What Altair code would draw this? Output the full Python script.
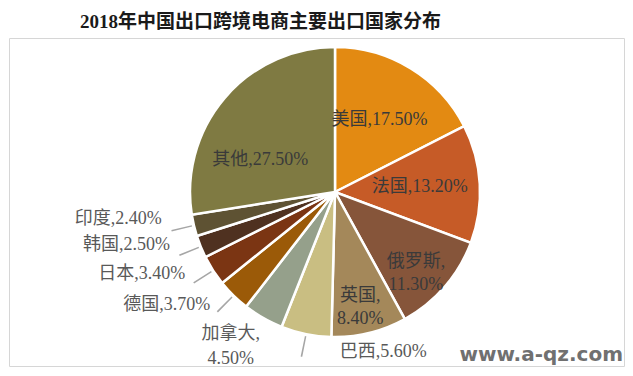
import altair as alt
import pandas as pd

# ---- data ----
countries = ["美国", "法国", "俄罗斯", "英国", "巴西", "加拿大", "德国", "日本", "韩国", "印度", "其他"]
shares = [17.5, 13.2, 11.3, 8.4, 5.6, 4.5, 3.7, 3.4, 2.5, 2.4, 27.5]
colors = ["#E38A12", "#C65B27", "#86553A", "#A4885A", "#C9BE82", "#95A08B",
          "#9B5A08", "#7B3513", "#4F3120", "#5E5233", "#7F7A42"]
title_text = "2018年中国出口跨境电商主要出口国家分布"
watermark = ["www.a-qz.com"]

inner_names = ["美国", "法国"]
middle_names = ["俄罗斯", "英国"]
other_names = ["其他"]
two_line_names = ["俄罗斯", "英国", "加拿大"]
left_names = ["德国", "日本", "韩国", "印度"]
right_names = ["巴西"]
below_names = ["加拿大"]


def make_label(name, v):
    sep = ",\n" if name in two_line_names else ","
    return f"{name}{sep}{v:.2f}%"


df = pd.DataFrame({
    "country": countries,
    "share": shares,
    "order": list(range(len(countries))),
})
df["label"] = [make_label(c, v) for c, v in zip(countries, shares)]

CX, CY = 326, 154  # pie centre inside the plot area
R = 145
SERIF = "Liberation Serif, Noto Sans CJK SC"

theta_scale = alt.Scale(domain=[0, 100])

base = alt.Chart().encode(
    x=alt.value(CX),
    y=alt.value(CY),
)


def only(names):
    return alt.FieldOneOfPredicate(field="country", oneOf=names)


pie = base.mark_arc(radius=R, stroke="white", strokeWidth=2.5).encode(
    theta=alt.Theta("start:Q", scale=theta_scale),
    theta2="cum:Q",
    color=alt.Color("country:N", scale=alt.Scale(domain=countries, range=colors), legend=None),
)


def label_layer(names, radius, color, align="center", dx=0, dy=0, lh=23):
    return base.mark_text(
        radius=radius, font=SERIF, fontSize=18, color=color, lineBreak="\n",
        align=align, baseline="middle", lineHeight=lh, dx=dx, dy=dy,
    ).encode(
        theta=alt.Theta("mid:Q", scale=theta_scale),
        text="label:N",
    ).transform_filter(only(names))


INNER_C = "#3A3A3A"
OUTER_C = "#595959"

inner = label_layer(inner_names, 85, INNER_C)
middle = label_layer(middle_names, 107, INNER_C)
other = label_layer(other_names, 85, INNER_C, dx=-10, dy=23)

leaders = base.mark_arc(radius=168, radius2=147, color="#A6A6A6").encode(
    theta=alt.Theta("lo:Q", scale=theta_scale),
    theta2="hi:Q",
).transform_filter(only(left_names + right_names))

left_labels = label_layer(left_names, 178, OUTER_C, align="right", dy=-14)
right_labels = label_layer(right_names, 166, OUTER_C, align="left", dx=38, dy=-3)
below_labels = label_layer(below_names, 182, OUTER_C, dx=-14, dy=-16, lh=25)

wm = alt.Chart(pd.DataFrame({"t": watermark})).mark_text(
    font="DejaVu Sans", fontSize=20, fontWeight="bold", color="#707070",
    align="right", baseline="middle",
).encode(
    text="t:N",
    x=alt.value(614),
    y=alt.value(317),
)

chart = alt.layer(
    pie, inner, middle, other, leaders, left_labels, right_labels, below_labels,
    data=df,
).transform_window(
    cum="sum(share)", sort=[alt.SortField("order")]
).transform_calculate(
    start="datum.cum - datum.share",
    mid="datum.cum - datum.share / 2",
    lo="datum.cum - datum.share / 2 - 0.08",
    hi="datum.cum - datum.share / 2 + 0.08",
)

chart = alt.layer(chart, wm).properties(
    width=615,
    height=328,
    autosize=alt.AutoSizeParams(type="none"),
    padding={"left": 1, "top": 30, "right": 1, "bottom": 2},
    title=alt.TitleParams(
        title_text, font=SERIF, fontSize=19, fontWeight="bold", color="#1A1A1A",
        anchor="middle", dx=-56, offset=6,
    ),
).configure_view(
    stroke="#D6D6D6", strokeWidth=1,
)

chart.save("out.html", embed_options={"renderer": "svg", "actions": False})
